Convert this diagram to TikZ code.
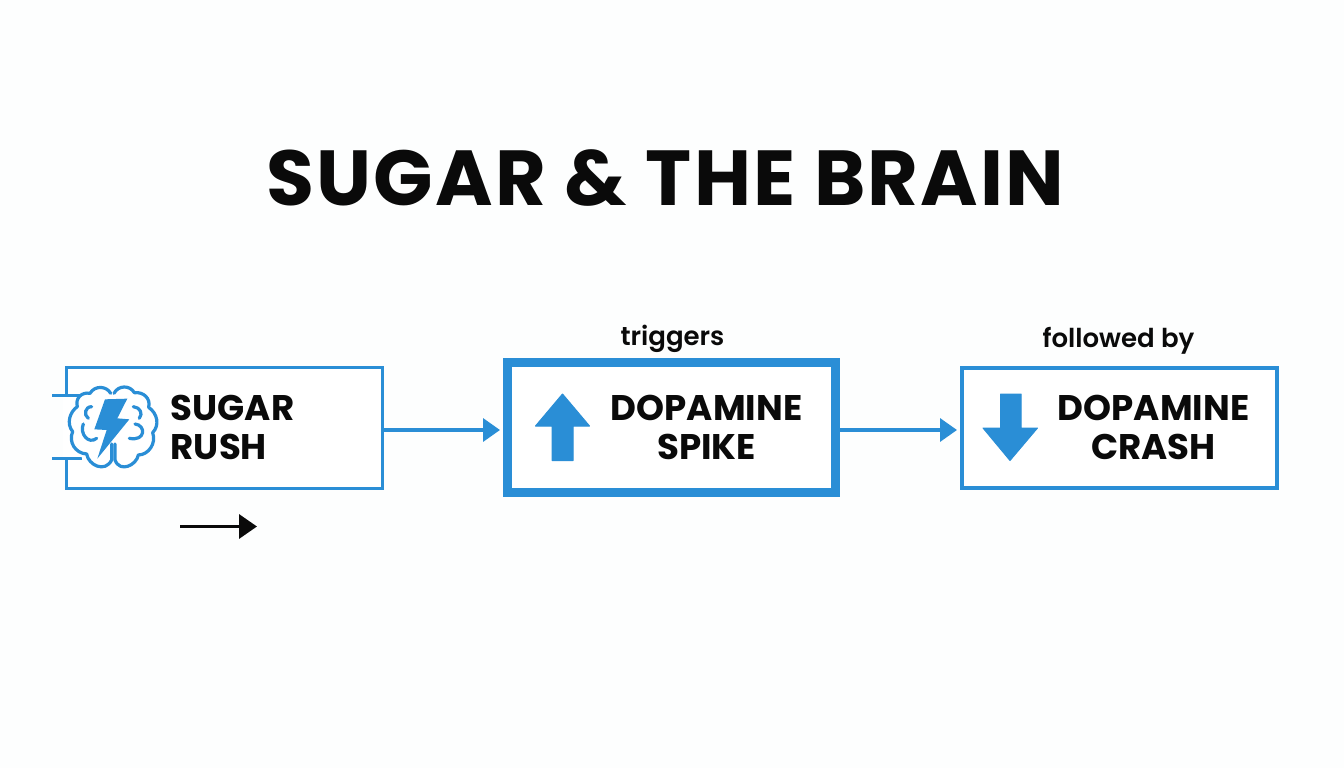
\documentclass[tikz,border=0pt]{standalone}
\usepackage{fontspec}
\setmainfont{Poppins}
\usetikzlibrary{arrows.meta}
\definecolor{brandblue}{HTML}{2A8ED6}
\definecolor{inkblack}{HTML}{0A0A0A}
\definecolor{paper}{HTML}{FDFEFE}
\tikzset{
  stagebox/.style={draw=brandblue,fill=white,inner sep=0pt,anchor=north west},
  stagetext/.style={font=\fontsize{35.6}{39}\selectfont\bfseries,text=inkblack,align=center,inner sep=0pt},
  caption/.style={font=\fontsize{26}{30}\selectfont\fontspec{Poppins SemiBold},text=inkblack,inner sep=0pt},
  flow/.style={draw=brandblue,line width=3.4pt,shorten >=3pt,-{Triangle[length=17pt,width=23pt]}},
  brainline/.style={draw=brandblue,line width=3.2pt,line cap=round,line join=round,fill=none},
  bigarrow/.style={fill=brandblue,draw=brandblue,line width=1pt,line join=round},
}
\begin{document}
\begin{tikzpicture}[x=1pt,y=-1pt]
\useasboundingbox[fill=paper] (0,0) rectangle (1344,768);
\node[font=\fontsize{78}{90}\selectfont\bfseries\addfontfeature{LetterSpace=2.8},text=inkblack,inner sep=0pt] (title) at (665.5,178) {SUGAR \& THE BRAIN};

% boxes
\node[stagebox,line width=3.4pt,minimum width=315.6pt,minimum height=120.6pt] (rush) at (65,366) {};
\node[stagebox,line width=9pt,minimum width=328pt,minimum height=130pt] (spike) at (503,358) {};
\node[stagebox,line width=3.6pt,minimum width=315.4pt,minimum height=120.4pt] (crash) at (960,366) {};

% gap in the left side of the first box and its two stubs
\fill[white] (63,397.2) rectangle (69.5,456.8);
\coordinate (stubA) at (52,395.5);
\coordinate (stubAe) at (92,395.5);
\coordinate (stubB) at (52,458.5);
\coordinate (stubBe) at (82,458.5);
\draw[brandblue,line width=3.2pt] (stubA) -- (stubAe);
\draw[brandblue,line width=3.2pt] (stubB) -- (stubBe);

% brain icon
\begin{scope}[shift={(40,350)},x=0.3333pt,y=-0.3333pt]
\fill[white] (205,135) -- (170,112) -- (125,135) -- (90,200) -- (90,280) -- (140,340) -- (185,352) -- (220,320) -- (250,355) -- (320,310) -- (350,225) -- (325,150) -- (255,110) -- cycle;
\draw[brainline] (212,130) .. controls (200,108) and (165,105) .. (150,130)
  .. controls (125,125) and (105,145) .. (112,170)
  .. controls (90,185) and (78,220) .. (98,245)
  .. controls (85,275) and (105,310) .. (140,312)
  .. controls (145,345) and (195,370) .. (215,330)
  -- (215,282);
\draw[brainline] (222,130) .. controls (235,105) and (270,105) .. (283,128)
  .. controls (310,125) and (333,145) .. (326,172)
  .. controls (352,190) and (360,225) .. (338,248)
  .. controls (350,280) and (325,315) .. (295,315)
  .. controls (290,345) and (240,370) .. (225,330)
  -- (225,282);
\draw[brainline] (155,170) .. controls (135,170) and (130,195) .. (145,205);
\draw[brainline] (130,222) .. controls (118,250) and (145,285) .. (170,265);
\draw[brainline] (280,170) .. controls (300,172) and (310,190) .. (298,205);
\draw[brainline] (285,222) .. controls (318,225) and (318,275) .. (268,265);
\fill[brandblue] (195,148) -- (262,146) -- (232,205) -- (268,208) -- (172,326) -- (200,240) -- (163,238) -- cycle;
\end{scope}

% block arrows
\fill[bigarrow] (562.5,394) -- (589.5,426) -- (573,426) -- (573,460.5) -- (552,460.5) -- (552,426) -- (535.5,426) -- cycle;
\fill[bigarrow] (1000.5,394) -- (1021,394) -- (1021,428) -- (1037.5,428) -- (1010,460.5) -- (983,428) -- (1000.5,428) -- cycle;

% texts
\node[stagetext,anchor=west,align=left] (rushtext) at (170.5,427.5) {SUGAR\\RUSH};
\node[stagetext] (spiketext) at (706.5,427.5) {DOPAMINE\\SPIKE};
\node[stagetext] (crashtext) at (1153.5,427.5) {DOPAMINE\\CRASH};
\node[caption] (trig) at (672.5,339) {triggers};
\node[caption] (foll) at (1118.5,341) {followed by};

% connectors
\draw[flow] (rush.east |- 0,430) -- (spike.west |- 0,430);
\draw[flow] (spike.east |- 0,430) -- (crash.west |- 0,430);
\coordinate (freeA) at (180,526.5);
\coordinate (freeB) at (257,526.5);
\draw[inkblack,line width=3.4pt,-{Triangle[length=18pt,width=24pt]}] (freeA) -- (freeB);
\end{tikzpicture}
\end{document}
